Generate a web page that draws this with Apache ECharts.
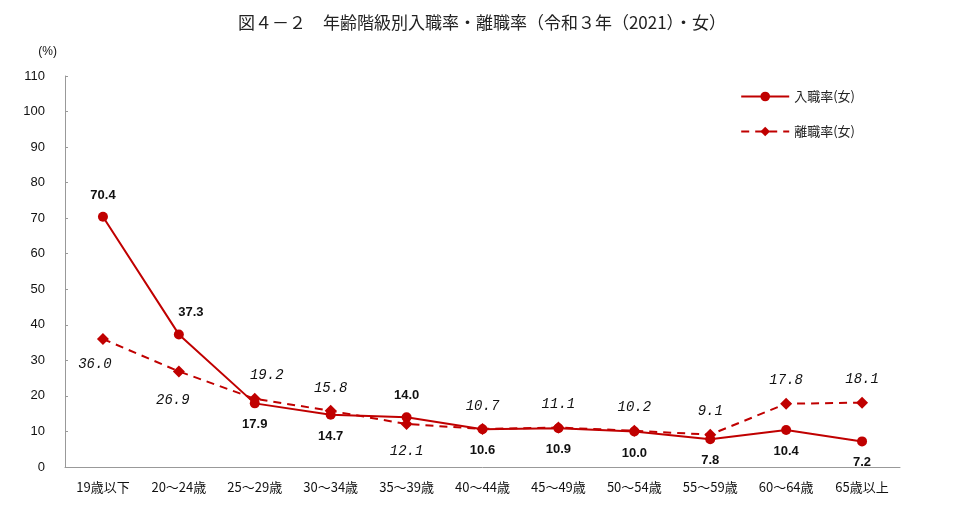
<!DOCTYPE html>
<html><head><meta charset="utf-8">
<script src="https://cdn.jsdelivr.net/npm/echarts@6/dist/echarts.min.js"></script>
<style>html,body{margin:0;padding:0;background:#fff}#c{width:964px;height:530px}</style>
</head><body><div id="c"></div>
<script>
const categories = ['19歳以下','20～24歳','25～29歳','30～34歳','35～39歳','40～44歳','45～49歳','50～54歳','55～59歳','60～64歳','65歳以上'];
const hireRate = [70.4,37.3,17.9,14.7,14.0,10.6,10.9,10.0,7.8,10.4,7.2];
const sepRate = [36.0,26.9,19.2,15.8,12.1,10.7,11.1,10.2,9.1,17.8,18.1];
const hirePos = ['top','top','bottom','bottom','top','bottom','bottom','bottom','bottom','bottom','bottom'];
const sepPos = ['bottom','bottom','top','top','bottom','top','top','top','top','top','top'];
const red = '#C00000';
const hireOff = [[0,0],[12,0],[0,0],[0,0],[0,0],[0,0],[0,0],[0,0],[0,0],[0,0],[0,0]];
const sepOff = [[-8,2],[-6,6],[12,0],[0,0],[0,4],[0,0],[0,0],[0,0],[0,0],[0,0],[0,0]];
const chart = echarts.init(document.getElementById('c'));
chart.setOption({
  backgroundColor:'#fff',
  animation:false,
  title:{text:'図４－２　年齢階級別入職率・離職率（令和３年（2021）・女）',left:'center',top:9,
    textStyle:{fontFamily:'Noto Sans CJK JP',fontSize:17,fontWeight:'normal',color:'#222'}},
  legend:{right:104,top:85,orient:'vertical',itemGap:22,itemWidth:48,itemHeight:12,
    textStyle:{fontFamily:'Noto Sans CJK JP',fontSize:13,color:'#222'},
    data:[{name:'入職率(女)'},{name:'離職率(女)'}]},
  grid:{left:65,right:64,top:76,bottom:63},
  xAxis:{type:'category',data:categories,boundaryGap:true,
    axisLine:{lineStyle:{color:'#999'}},axisTick:{lineStyle:{color:'#999'},length:4},
    axisLabel:{fontFamily:'Noto Sans CJK JP',fontSize:13,color:'#111',margin:14}},
  yAxis:{type:'value',min:0,max:110,interval:10,name:'(%)',nameLocation:'end',nameGap:18,
    nameTextStyle:{fontSize:12,color:'#111',align:'right',padding:[0,8,0,0],fontFamily:'Arial'},
    splitLine:{show:false},
    axisLine:{show:true,lineStyle:{color:'#999'}},axisTick:{show:true,inside:true,length:3,lineStyle:{color:'#999'}},
    axisLabel:{fontSize:13,color:'#111',margin:20,fontFamily:'Arial'}},
  series:[
    {name:'入職率(女)',type:'line',data:hireRate.map((v,i)=>({value:v,label:{position:hirePos[i],offset:hireOff[i]}})),
     symbol:'circle',symbolSize:10,
     lineStyle:{color:red,width:2},itemStyle:{color:red},
     label:{show:true,distance:10,fontWeight:'bold',fontSize:13,color:'#111',fontFamily:'Arial',
       formatter:p=>p.value.toFixed(1)}},
    {name:'離職率(女)',type:'line',data:sepRate.map((v,i)=>({value:v,label:{position:sepPos[i],offset:sepOff[i]}})),
     symbol:'diamond',symbolSize:12,
     lineStyle:{color:red,width:2,type:[8,6]},itemStyle:{color:red},
     label:{show:true,distance:10,fontStyle:'italic',fontSize:14,color:'#111',fontFamily:'Liberation Mono',
       formatter:p=>p.value.toFixed(1)}}
  ]
});
</script></body></html>
